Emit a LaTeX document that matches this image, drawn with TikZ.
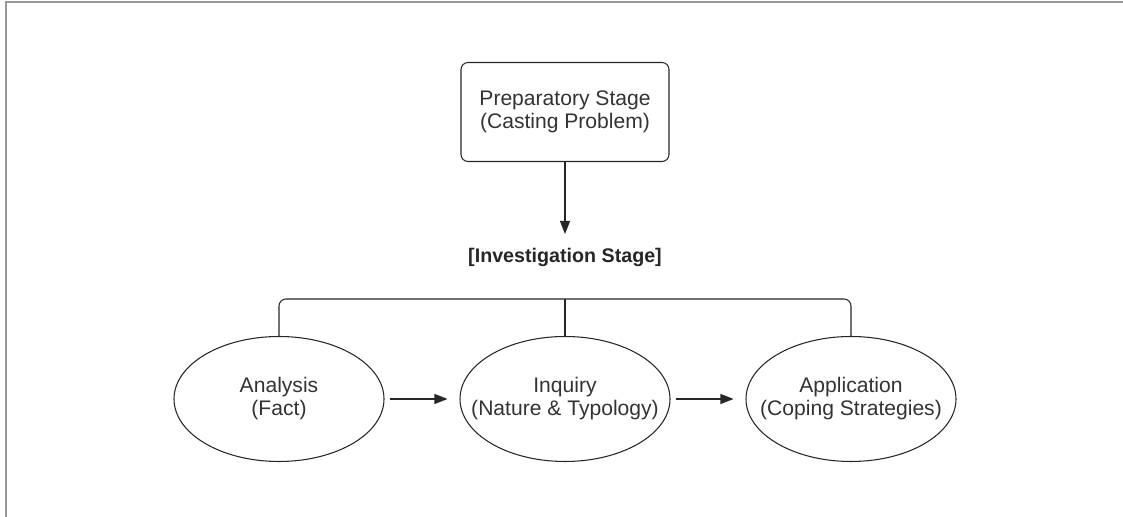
\documentclass[tikz,border=0pt]{standalone}
\usepackage{fontspec}
\setmainfont{Liberation Sans}
\usetikzlibrary{arrows.meta,calc,shapes.geometric}

\begin{document}
\begin{tikzpicture}[
  font=\fontsize{12}{13.1}\selectfont,
  stagebox/.style={draw=black!85,line width=0.6pt,rounded corners=4pt,
    minimum width=4.16cm,minimum height=1.98cm,align=center,text=black!80},
  oval/.style={ellipse,draw=black!85,line width=0.6pt,inner xsep=-0.9cm,inner ysep=-0.2cm,
    minimum width=4.2cm,minimum height=2.5cm,align=center,text=black!80},
  link/.style={line width=0.6pt,draw=black!85},
  arr/.style={link,-{Triangle[length=0.26cm,width=0.2cm]}}
]
\useasboundingbox (0,0) rectangle (22.46,10.34);

% frame
\draw[gray!80,line width=0.9pt] (0.12,0) -- (0.12,10.30) -- (22.46,10.30);

\node[stagebox] (prep) at (11.30,8.10) {Preparatory Stage\\(Casting Problem)};
\node[font=\fontsize{11.2}{13}\selectfont\bfseries,text=black!85] (stage) at (11.30,5.20) {[Investigation Stage]};
\coordinate (tip) at (11.30,5.66);
\coordinate (brk) at (11.30,4.36);

\node[oval] (ana) at (5.58,2.36) {Analysis\\(Fact)};
\node[oval] (inq) at (11.30,2.36) {Inquiry\\(Nature \& Typology)};
\node[oval] (app) at (17.02,2.36) {Application\\(Coping Strategies)};

\draw[arr] (prep.south) -- (tip);

\draw[link,rounded corners=4pt] (ana.north) -- (ana.north |- brk) -- (app.north |- brk) -- (app.north);
\draw[link] (inq.north) -- (brk);

\draw[arr,shorten <=0.1cm,shorten >=0.24cm] (ana.east) -- (inq.west);
\draw[arr,shorten <=0.1cm,shorten >=0.24cm] (inq.east) -- (app.west);

\end{tikzpicture}
\end{document}
